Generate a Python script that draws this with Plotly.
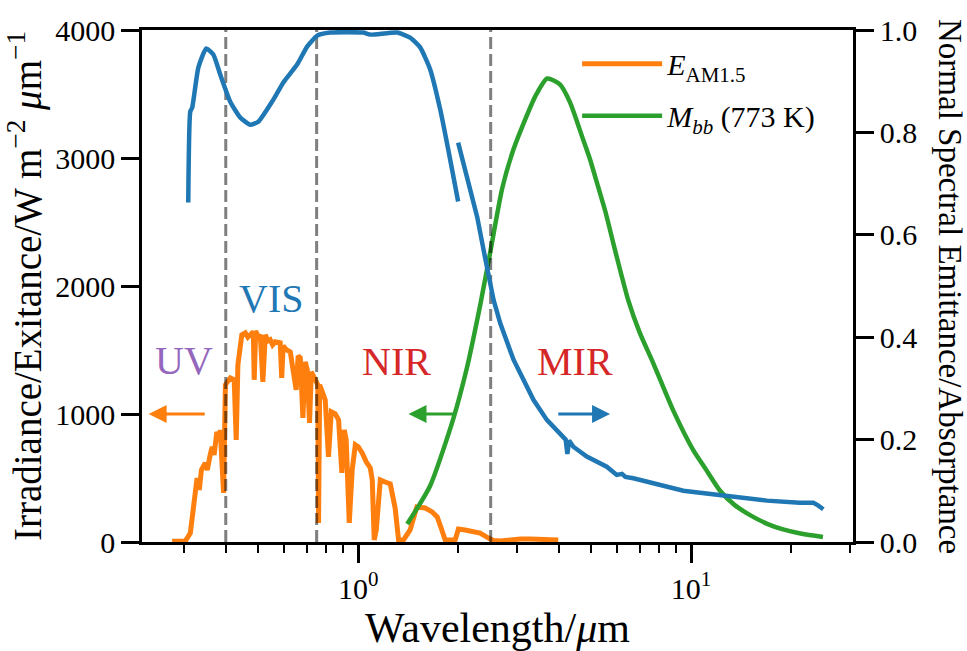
import numpy as np
import plotly.graph_objects as go

# ---------------- data ----------------
# AM1.5 spectral irradiance (W m^-2 um^-1)
orange_wl = [0.276, 0.302, 0.313, 0.317, 0.324, 0.328, 0.333, 0.338, 0.347, 0.352,
             0.359, 0.364, 0.369, 0.376, 0.383, 0.385, 0.394, 0.399, 0.413, 0.424,
             0.430, 0.435, 0.447, 0.458, 0.466, 0.474, 0.484, 0.487, 0.492, 0.500,
             0.508, 0.517, 0.526, 0.535, 0.544, 0.553, 0.563, 0.583, 0.589, 0.595,
             0.610, 0.625, 0.651, 0.660, 0.670, 0.682, 0.693, 0.703, 0.714, 0.723,
             0.743, 0.756, 0.760, 0.766, 0.780, 0.796, 0.814, 0.830, 0.853, 0.873,
             0.893, 0.908, 0.920, 0.940, 0.959, 0.980, 1.000, 1.028, 1.057, 1.087,
             1.102, 1.117, 1.133, 1.165, 1.205, 1.248, 1.291, 1.322, 1.368, 1.432,
             1.500, 1.589, 1.668, 1.727, 1.783, 1.825, 1.955, 2.000, 2.095, 2.170,
             2.324, 2.463, 2.548, 2.670, 2.860, 3.070, 3.285, 3.520, 3.770, 3.990]
orange_E = [5, 5, 70, 211, 430, 500, 407, 563, 618, 563,
            680, 743, 680, 860, 798, 876, 383, 1228, 1282, 1267,
            798, 1384, 1619, 1634, 1600, 1626, 1642, 1267, 1650, 1600,
            1619, 1251, 1619, 1570, 1580, 1540, 1564, 1556, 1282, 1533,
            1500, 1486, 1189, 1454, 1439, 970, 1408, 1345, 931, 1329,
            1251, 1228, 149, 1228, 1173, 1110, 665, 1017, 1001, 954,
            540, 876, 798, 149, 563, 759, 743, 696, 626, 579,
            485, 16, 94, 485, 469, 454, 266, 16, 16, 94,
            274, 266, 235, 196, 94, 16, 16, 102, 94, 86,
            70, 31, 12, 8, 20, 23, 23, 20, 16, 16]

# Blackbody spectral exitance at 773 K (W m^-2 um^-1)
green_wl = [1.403, 1.645, 1.929, 2.125, 2.214, 2.325, 2.491, 2.706, 2.921, 3.173,
            3.401, 3.695, 4.043, 4.332, 4.739, 4.97, 5.256, 5.53, 5.91, 6.47,
            7.0, 7.69, 8.83, 10.14, 11.0, 12.22, 13.5, 15.04, 17.0, 18.9,
            21.5, 24.9]
green_M = [140, 440, 960, 1369, 1580, 1850, 2260, 2760, 3060, 3300,
           3480, 3621, 3574, 3433, 3144, 2990, 2776, 2580, 2280, 1892,
           1640, 1400, 1030, 720, 580, 400, 290, 210, 140, 98,
           64, 39]

# Normal spectral emittance / absorptance (right axis), two instrument ranges
blue1_wl = [0.3086, 0.313, 0.317, 0.331, 0.3495, 0.367, 0.385, 0.4126, 0.442, 0.474,
            0.501, 0.556, 0.595, 0.656, 0.703, 0.753, 0.824, 1.035, 1.087, 1.31,
            1.432, 1.535, 1.645, 1.763, 1.889, 1.996]
blue1_a = [0.663, 0.841, 0.848, 0.927, 0.964, 0.952, 0.913, 0.860, 0.829, 0.815,
           0.821, 0.864, 0.897, 0.933, 0.968, 0.989, 0.995, 0.995, 0.991, 0.995,
           0.985, 0.966, 0.923, 0.845, 0.747, 0.665]
blue2_wl = [1.996, 2.169, 2.277, 2.406, 2.55, 2.67, 2.732, 2.928, 3.065, 3.361,
            3.687, 4.136, 4.20, 4.25, 4.30, 4.43, 4.86, 5.58, 5.98, 6.2,
            6.35, 6.71, 7.70, 9.48, 10.64, 13.4, 16.9, 21.2, 23.3, 24.0, 24.97]
blue2_a = [0.780, 0.688, 0.635, 0.555, 0.473, 0.4275, 0.408, 0.356, 0.330, 0.2776,
           0.2385, 0.206, 0.200, 0.172, 0.198, 0.186, 0.167, 0.147, 0.131, 0.133,
           0.127, 0.1245, 0.115, 0.100, 0.0964, 0.0886, 0.0808, 0.0768, 0.0768, 0.072, 0.064]

# Region boundaries (um)
boundaries = [0.4, 0.75, 2.5]

# Region labels: (text, wavelength, y value, colour)
region_labels = [("UV", 0.300, 1420, "#9467bd"),
                 ("VIS", 0.548, 1900, "#1f77b4"),
                 ("NIR", 1.300, 1410, "#d62728"),
                 ("MIR", 4.48, 1410, "#d62728")]
# Arrows: (tail wavelength, head wavelength, y, colour)
arrows = [(0.3495, 0.2346, 1000, "#ff7f0e"),
          (1.98, 1.416, 1000, "#2ca02c"),
          (3.95, 5.71, 1000, "#1f77b4")]

x_major = [1, 10]
x_major_text = ["10<sup>0</sup>", "10<sup>1</sup>"]
x_minor = [0.3, 0.4, 0.5, 0.6, 0.7, 0.8, 0.9, 2, 3, 4, 5, 6, 7, 8, 9, 20, 30]
yl_ticks = [0, 1000, 2000, 3000, 4000]
yr_ticks = [0.0, 0.2, 0.4, 0.6, 0.8, 1.0]
yl_range = [0, 4000]
yr_range = [0, 1]

FONT = "Liberation Serif"
BLUE, ORANGE, GREEN = "#1f77b4", "#ff7f0e", "#2ca02c"
XRANGE = [-0.6496, 1.4865]
MAJ, MIN = 18, 8

fig = go.Figure()
fig.add_trace(go.Scatter(x=orange_wl, y=orange_E, mode="lines",
                         line=dict(color=ORANGE, width=5, shape="linear"),
                         legendgroup="a",
                         name="<i>E</i><sub>AM1.5</sub>"))
fig.add_trace(go.Scatter(x=green_wl, y=green_M, mode="lines",
                         line=dict(color=GREEN, width=4.5, shape="spline", smoothing=0.6),
                         legendgroup="b",
                         name="<i>M<sub>bb</sub></i> (773 K)"))
for b in boundaries:
    fig.add_trace(go.Scatter(x=[b, b], y=yl_range, mode="lines",
                             line=dict(color="rgba(0,0,0,0.5)", width=3, dash="12px,5px"),
                             showlegend=False, hoverinfo="skip"))
fig.add_trace(go.Scatter(x=blue1_wl, y=blue1_a, mode="lines", yaxis="y2",
                         line=dict(color=BLUE, width=4.5, shape="spline", smoothing=0.5),
                         showlegend=False))
fig.add_trace(go.Scatter(x=blue2_wl, y=blue2_a, mode="lines", yaxis="y2",
                         line=dict(color=BLUE, width=4.5), showlegend=False))

annotations = []
for text, wl, yv, col in region_labels:
    annotations.append(dict(x=np.log10(wl), y=yv, xref="x", yref="y", text=text,
                            showarrow=False, font=dict(family=FONT, size=40, color=col),
                            xanchor="center", yanchor="middle"))
for tail, head, yv, col in arrows:
    annotations.append(dict(x=np.log10(head), y=yv, ax=np.log10(tail), ay=yv,
                            xref="x", yref="y", axref="x", ayref="y", text="",
                            showarrow=True, arrowhead=2, arrowsize=1.2, arrowwidth=3,
                            arrowcolor=col, standoff=0, startstandoff=0))
annotations.append(dict(x=1.0, y=0.5, xref="paper", yref="paper", xshift=97,
                        text="Normal Spectral Emittance/Absorptance", textangle=90,
                        showarrow=False, font=dict(family=FONT, size=33, color="black"),
                        xanchor="center", yanchor="middle"))

TICKFONT = dict(family=FONT, size=30, color="black")

fig.update_layout(
    width=967, height=651,
    margin=dict(l=142, r=114, t=30, b=109),
    paper_bgcolor="white", plot_bgcolor="white",
    font=dict(family=FONT, color="black"),
    xaxis=dict(type="log", range=XRANGE,
               showline=True, linecolor="black", linewidth=2.5, mirror=True,
               showgrid=False, zeroline=False,
               ticks="outside", ticklen=MAJ, tickwidth=2.5, tickcolor="black",
               tickmode="array", tickvals=x_major, ticktext=x_major_text,
               minor=dict(tickmode="array", tickvals=x_minor, ticks="outside",
                          ticklen=MIN, tickwidth=2, tickcolor="black", showgrid=False),
               tickfont=TICKFONT,
               title=dict(text="Wavelength/<i>μ</i>m", font=dict(family=FONT, size=42),
                          standoff=4)),
    yaxis=dict(range=yl_range,
               showline=True, linecolor="black", linewidth=2.5,
               showgrid=False, zeroline=False,
               ticks="outside", ticklen=MAJ, tickwidth=2.5, tickcolor="black",
               tickmode="array", tickvals=yl_ticks, tickfont=TICKFONT,
               title=dict(text="Irradiance/Exitance/W m<sup>−2</sup> <i>μ</i>m<sup>−1</sup>",
                          font=dict(family=FONT, size=39), standoff=2)),
    yaxis2=dict(range=yr_range, overlaying="y", side="right",
                showline=True, linecolor="black", linewidth=2.5,
                showgrid=False, zeroline=False,
                ticks="outside", ticklen=MAJ, tickwidth=2.5, tickcolor="black",
                tickmode="array", tickvals=yr_ticks,
                ticktext=[f"{v:.1f}" for v in yr_ticks], tickfont=TICKFONT),
    legend=dict(x=0.612, y=0.985, xanchor="left", yanchor="top",
                bgcolor="rgba(0,0,0,0)", font=dict(family=FONT, size=30),
                itemwidth=80, tracegroupgap=10, traceorder="grouped"),
    annotations=annotations,
    showlegend=True,
)

fig.write_html("out.html")
